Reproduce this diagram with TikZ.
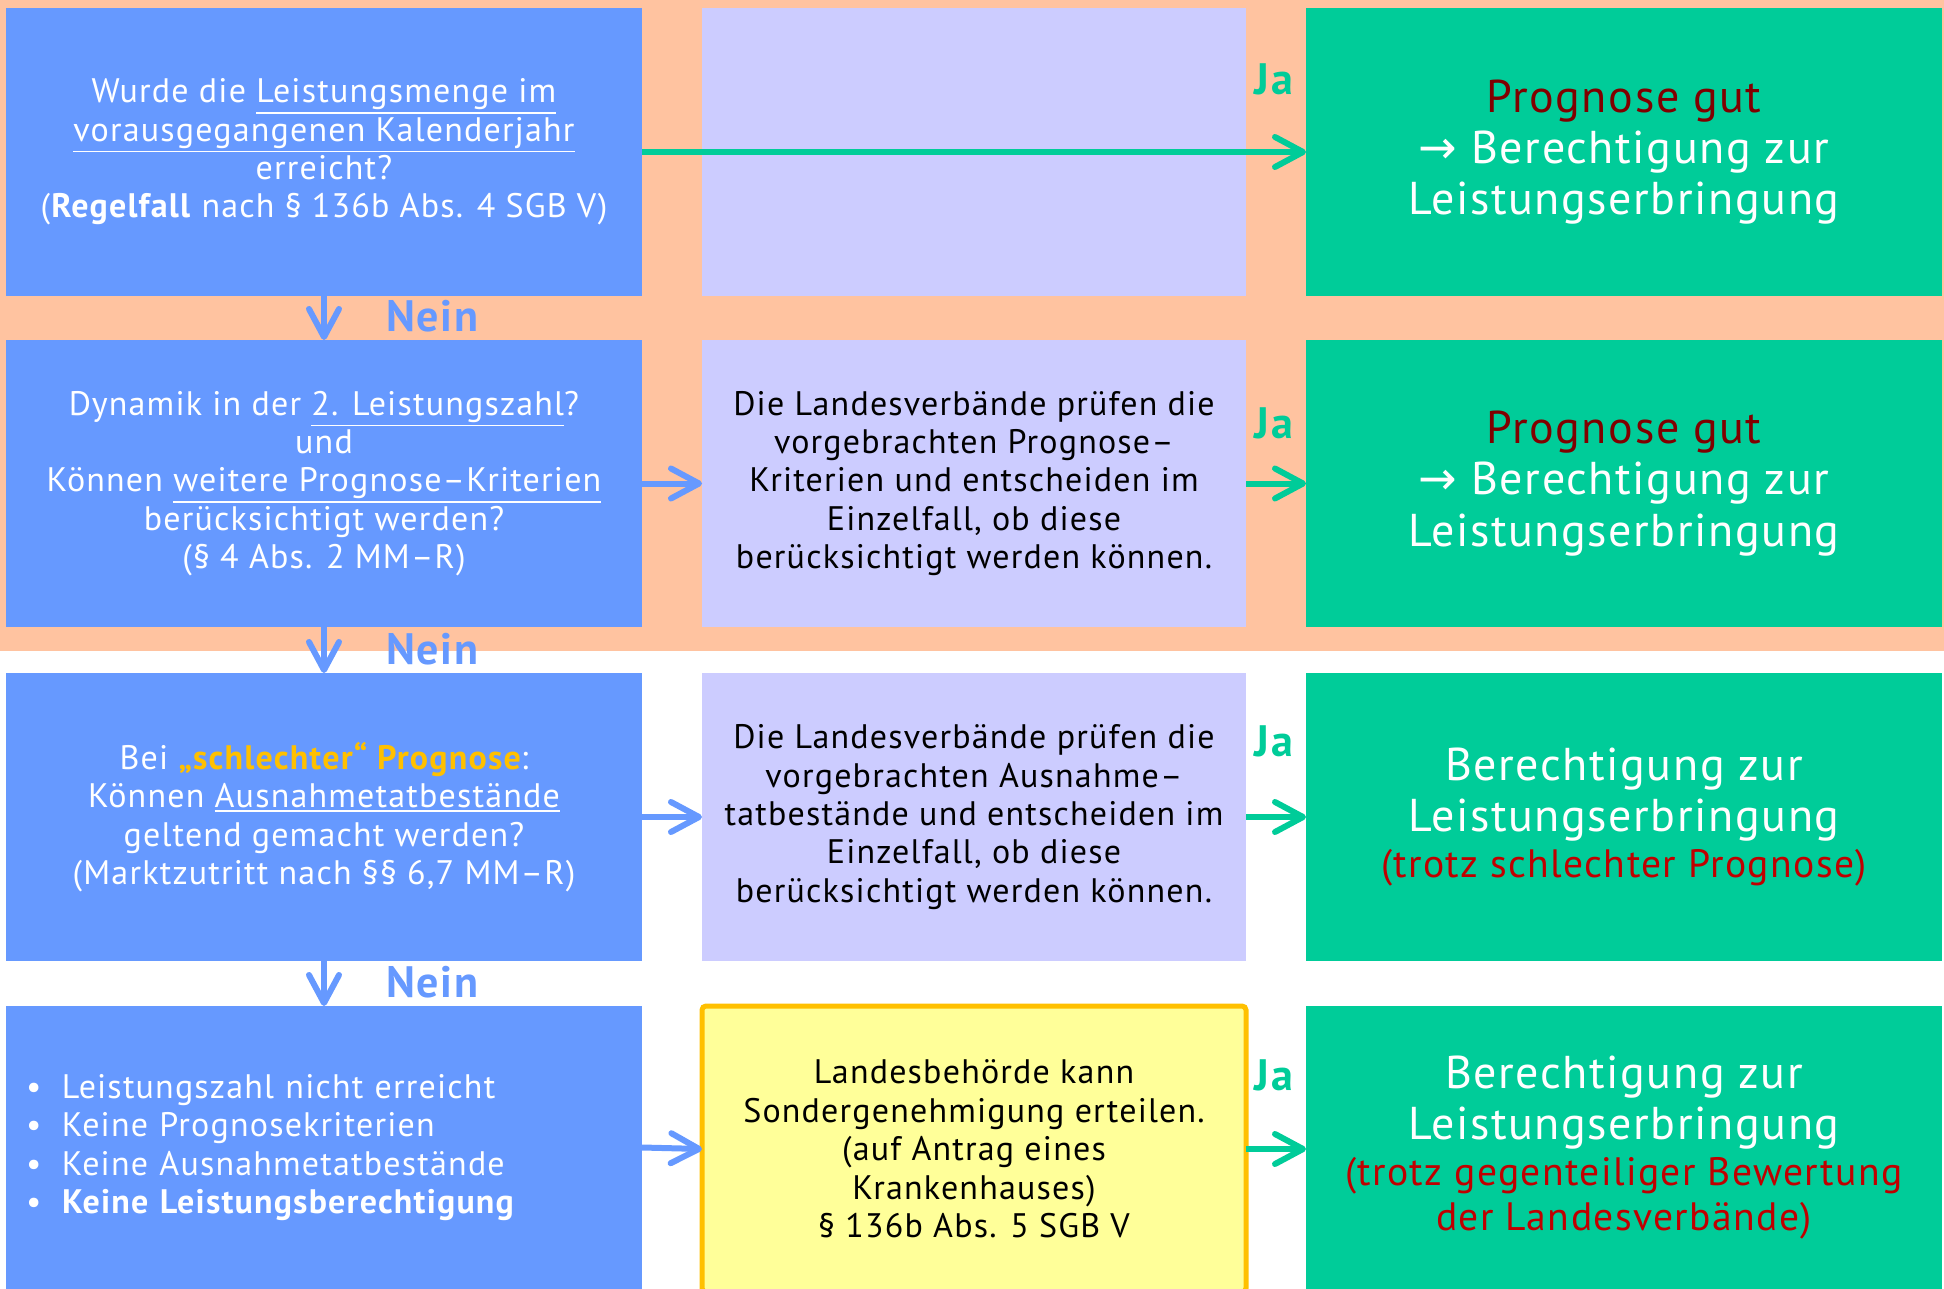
\documentclass[tikz,border=0pt]{standalone}
\usepackage{fontspec}
\setmainfont{PT Sans}[LetterSpace=3.5]
\newfontfamily\djv{DejaVu Sans}
\usetikzlibrary{arrows.meta}
\definecolor{peach}{HTML}{FFC3A0}
\definecolor{qblue}{HTML}{6699FF}
\definecolor{lav}{HTML}{CCCCFF}
\definecolor{qgreen}{HTML}{00CC99}
\definecolor{dred}{HTML}{800000}
\definecolor{bred}{HTML}{C00000}
\definecolor{gold}{HTML}{FFC000}
\definecolor{lyellow}{HTML}{FFFF99}
\newcommand\myul[1]{\setbox0\hbox{#1}\rlap{\rule[\dimexpr-\dp0-2pt\relax]{\wd0}{0.8pt}}\box0}
\newcommand\redline[1]{{\fontsize{19.8pt}{23pt}\selectfont\color{bred}#1}}
\begin{document}
\begin{tikzpicture}[x=0.5pt,y=-0.5pt,
  box/.style={anchor=north west, inner sep=0pt, outer sep=0pt, align=center},
  bodyfont/.style={font=\fontsize{17pt}{19.2pt}\selectfont},
  qbox/.style={box, fill=qblue, text=white, bodyfont, minimum width=318pt},
  lbox/.style={box, fill=lav, text=black, bodyfont, minimum width=272pt},
  gbox/.style={box, fill=qgreen, text=white, font=\fontsize{23pt}{25.7pt}\selectfont, minimum width=318pt},
  tipstyle/.style={-{Straight Barb[length=14pt,width=15pt,round]}, line width=3pt},
  blarrow/.style={tipstyle, draw=qblue},
  grarrow/.style={tipstyle, draw=qgreen},
  nein/.style={text=qblue, font=\fontsize{22pt}{24pt}\selectfont\bfseries, anchor=base west, inner sep=0pt},
  ja/.style={text=qgreen, font=\fontsize{22pt}{24pt}\selectfont\bfseries, anchor=base, inner sep=0pt}
]
\useasboundingbox (0,0) rectangle (1944,1289);
\fill[peach] (0,0) rectangle (1944,651);

% Row 1
\node[qbox, minimum height=144pt] (b1) at (6,8)
  {Wurde die \myul{Leistungsmenge im}\\
   \myul{vorausgegangenen Kalenderjahr}\\
   erreicht?\\
   (\textbf{Regelfall} nach § 136b Abs. 4 SGB V)};
\node[lbox, minimum height=144pt] (l1) at (702,8) {};
\node[gbox, minimum height=144pt] (g1) at (1306,8)
  {{\color{dred}Prognose gut}\\
   {\djv →} Berechtigung zur\\
   Leistungserbringung};

% Row 2
\node[qbox, minimum height=143.5pt] (b2) at (6,340)
  {Dynamik in der \myul{2. Leistungszahl}?\\
   und\\
   Können \myul{weitere Prognose–Kriterien}\\
   berücksichtigt werden?\\
   (§ 4 Abs. 2 MM–R)};
\node[lbox, minimum height=143.5pt] (l2) at (702,340)
  {Die Landesverbände prüfen die\\
   vorgebrachten Prognose–\\
   Kriterien und entscheiden im\\
   Einzelfall, ob diese\\
   berücksichtigt werden können.};
\node[gbox, minimum height=143.5pt] (g2) at (1306,340)
  {{\color{dred}Prognose gut}\\
   {\djv →} Berechtigung zur\\
   Leistungserbringung};

% Row 3
\node[qbox, minimum height=144pt] (b3) at (6,673)
  {Bei {\color{gold}\bfseries „schlechter“ Prognose}:\\
   Können \myul{Ausnahmetatbestände}\\
   geltend gemacht werden?\\
   (Marktzutritt nach §§ 6,7 MM–R)};
\node[lbox, minimum height=144pt] (l3) at (702,673)
  {Die Landesverbände prüfen die\\
   vorgebrachten Ausnahme–\\
   tatbestände und entscheiden im\\
   Einzelfall, ob diese\\
   berücksichtigt werden können.};
\node[gbox, minimum height=144pt] (g3) at (1306,673)
  {Berechtigung zur\\
   Leistungserbringung\\[-3pt]
   \redline{(trotz schlechter Prognose)}};

% Row 4
\node[qbox, minimum height=141.5pt, text width=298pt, inner xsep=10pt, align=left] (b4) at (6,1006)
  {\makebox[18pt][l]{\textbullet}Leistungszahl nicht erreicht\\
   \makebox[18pt][l]{\textbullet}Keine Prognosekriterien\\
   \makebox[18pt][l]{\textbullet}Keine Ausnahmetatbestände\\
   \makebox[18pt][l]{\textbullet}\textbf{Keine Leistungsberechtigung}};
\node[box, fill=lyellow, draw=gold, line width=2.5pt, rounded corners=2pt, bodyfont,
      minimum width=272pt, minimum height=143pt] (y4) at (702,1006)
  {Landesbehörde kann\\
   Sondergenehmigung erteilen.\\
   (auf Antrag eines\\
   Krankenhauses)\\
   § 136b Abs. 5 SGB V};
\node[gbox, minimum height=141.5pt] (g4) at (1306,1006)
  {Berechtigung zur\\
   Leistungserbringung\\[-3pt]
   \redline{(trotz gegenteiliger Bewertung}\\[-3pt]
   \redline{der Landesverbände)}};

% Horizontal arrows
\draw[grarrow] (b1.east) -- (g1.west);
\draw[blarrow] (b2.east) -- (l2.west);
\draw[grarrow] (l2.east) -- (l2.east -| g2.west);
\draw[blarrow] (b3.east) -- (l3.west);
\draw[grarrow] (l3.east) -- (g3.west);
\draw[blarrow] (b4.east) -- (y4.west);
\draw[grarrow] (y4.east) -- (y4.east -| g4.west);

% Vertical arrows
\draw[blarrow] (b1.south) -- (b2.north);
\draw[blarrow] (b2.south) -- (b3.north);
\draw[blarrow] (b3.south) -- (b4.north);

% Labels
\node[nein] (n1) at (386,332) {Nein};
\node[nein] (n2) at (386,664) {Nein};
\node[nein] (n3) at (386,997) {Nein};
\node[ja] (j1) at (1274,95) {Ja};
\node[ja] (j2) at (1274,438) {Ja};
\node[ja] (j3) at (1274,756) {Ja};
\node[ja] (j4) at (1274,1090) {Ja};
\end{tikzpicture}
\end{document}
